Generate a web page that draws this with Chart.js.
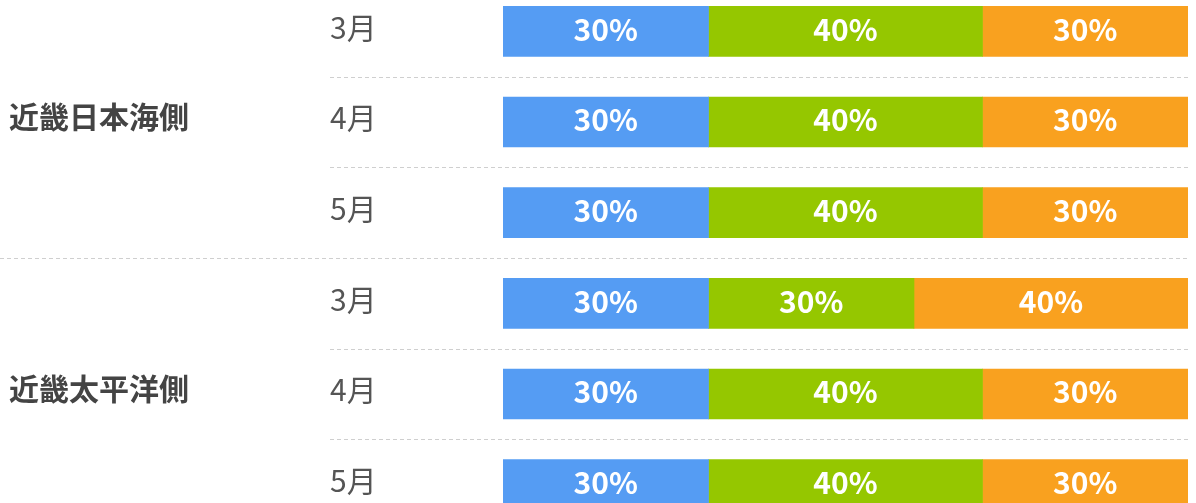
<!DOCTYPE html>
<html>
<head>
<meta charset="utf-8">
<script src="https://cdn.jsdelivr.net/npm/chart.js@4/dist/chart.umd.min.js"></script>
<style>
  html, body { margin: 0; padding: 0; background: #fff; overflow: hidden; }
  #chart { position: absolute; left: 0; top: -14px; }
</style>
</head>
<body>
<canvas id="chart" width="1196" height="544"></canvas>
<script>
// datos del gráfico
const meses = ['3月', '4月', '5月', '3月', '4月', '5月'];
const regiones = ['近畿日本海側', '近畿太平洋側'];
const azul = [30, 30, 30, 30, 30, 30];
const verde = [40, 40, 40, 30, 40, 40];
const naranja = [30, 30, 30, 40, 30, 30];

const FUENTE = "'Noto Sans CJK JP', 'Noto Sans', sans-serif";

// líneas punteadas y nombres de región
const separadores = {
  id: 'separadores',
  beforeDatasetsDraw(chart) {
    const ctx = chart.ctx;
    const y = chart.scales.y;
    const right = chart.chartArea.right;
    ctx.save();
    ctx.strokeStyle = '#cfcfcf';
    ctx.lineWidth = 1;
    ctx.setLineDash([4, 3]);
    for (let i = 0; i < meses.length - 1; i++) {
      const py = Math.round((y.getPixelForValue(i) + y.getPixelForValue(i + 1)) / 2) + 0.5;
      const x0 = (i === 2) ? 0 : 330;
      ctx.beginPath();
      ctx.moveTo(x0, py);
      ctx.lineTo(right, py);
      ctx.stroke();
    }
    ctx.setLineDash([]);
    ctx.fillStyle = '#444';
    ctx.font = 'bold 30px ' + FUENTE;
    ctx.textAlign = 'left';
    ctx.textBaseline = 'middle';
    regiones.forEach((r, k) => {
      ctx.fillText(r, 9, y.getPixelForValue(k * 3 + 1) - 5);
    });
    ctx.restore();
  }
};

// etiquetas de porcentaje
const etiquetas = {
  id: 'etiquetas',
  afterDatasetsDraw(chart) {
    const ctx = chart.ctx;
    ctx.save();
    ctx.fillStyle = '#fff';
    ctx.font = 'bold 30px ' + FUENTE;
    ctx.textAlign = 'center';
    ctx.textBaseline = 'middle';
    chart.data.datasets.forEach((ds, di) => {
      chart.getDatasetMeta(di).data.forEach((bar, i) => {
        const cx = (bar.x + bar.base) / 2;
        ctx.fillText(ds.data[i] + '%', cx, bar.y - 2);
      });
    });
    ctx.restore();
  }
};

new Chart(document.getElementById('chart'), {
  type: 'bar',
  data: {
    labels: meses,
    datasets: [
      { data: azul, backgroundColor: '#559cf3' },
      { data: verde, backgroundColor: '#95c700' },
      { data: naranja, backgroundColor: '#f9a11f' }
    ]
  },
  options: {
    indexAxis: 'y',
    responsive: false,
    animation: false,
    layout: { padding: { left: 330, right: 8, top: 0, bottom: 0 } },
    datasets: { bar: { barThickness: 50, borderWidth: 0 } },
    plugins: { legend: { display: false }, tooltip: { enabled: false } },
    scales: {
      x: { stacked: true, min: 0, max: 100, display: false },
      y: {
        stacked: true,
        grid: { display: false, drawTicks: false },
        border: { display: false },
        afterFit(scale) {
          scale.width = 173;
          scale.paddingTop = 0;
          scale.paddingBottom = 0;
        },
        ticks: {
          padding: 0,
          crossAlign: 'far',
          labelOffset: -4,
          color: '#555',
          font: { family: FUENTE, size: 30 }
        }
      }
    }
  },
  plugins: [separadores, etiquetas]
});
</script>
</body>
</html>
